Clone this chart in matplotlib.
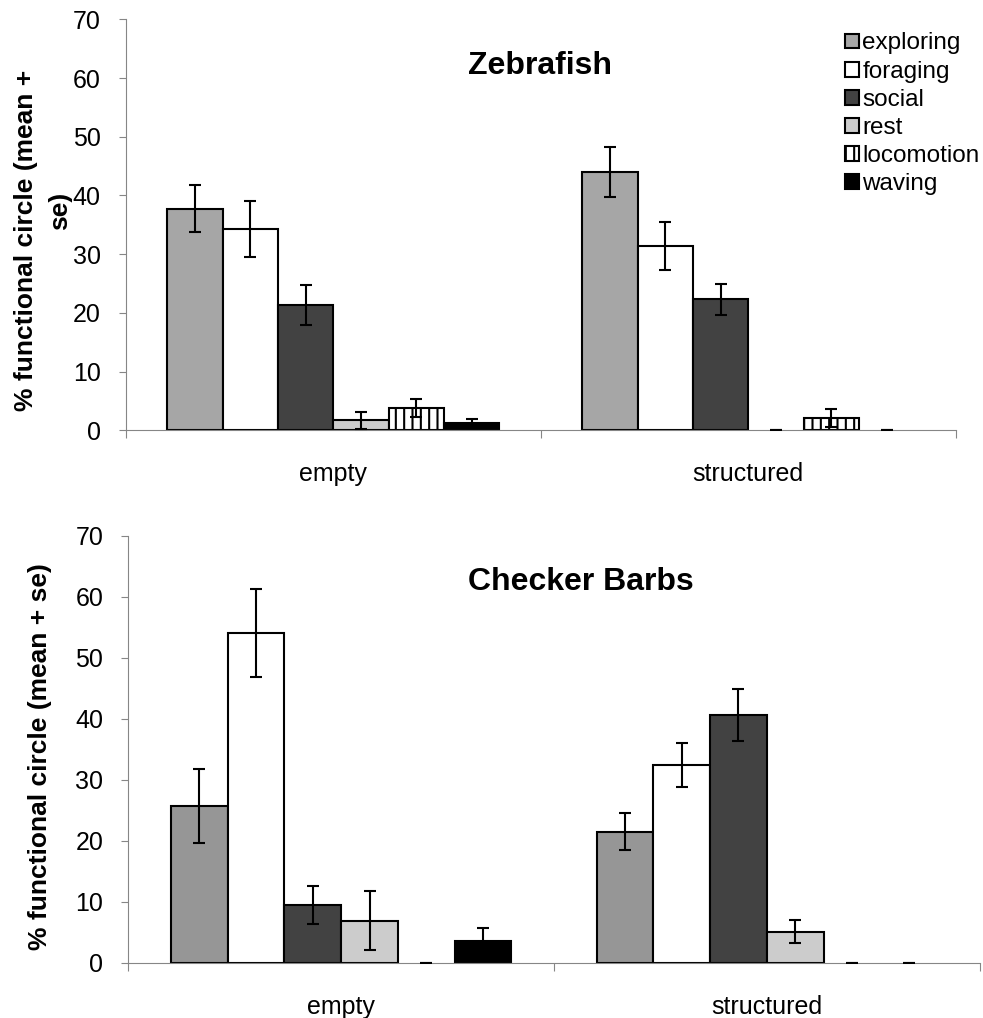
import numpy as np
import matplotlib
matplotlib.use("Agg")
import matplotlib.pyplot as plt
from matplotlib.patches import Patch

plt.rcParams['font.family'] = ['Liberation Sans', 'DejaVu Sans']
plt.rcParams['hatch.linewidth'] = 1.5

# Behaviour categories and habitat conditions
behaviours = ['exploring', 'foraging', 'social', 'rest', 'locomotion', 'waving']
habitats = ['empty', 'structured']

# Zebrafish: mean % of functional circle and standard error
zebra_mean_empty = [37.7, 34.3, 21.4, 1.7, 3.8, 1.2]
zebra_se_empty = [4.0, 4.7, 3.4, 1.5, 1.5, 0.8]
zebra_mean_struct = [44.0, 31.4, 22.3, 0.0, 2.1, 0.0]
zebra_se_struct = [4.3, 4.1, 2.7, 0.0, 1.6, 0.0]

# Checker barbs: mean % of functional circle and standard error
barbs_mean_empty = [25.7, 54.0, 9.5, 6.9, 0.0, 3.5]
barbs_se_empty = [6.0, 7.2, 3.1, 4.8, 0.0, 2.2]
barbs_mean_struct = [21.5, 32.4, 40.6, 5.1, 0.0, 0.0]
barbs_se_struct = [3.0, 3.6, 4.3, 1.9, 0.0, 0.0]

y_ticks = [0, 10, 20, 30, 40, 50, 60, 70]

zebra_colors = ['#a6a6a6', '#ffffff', '#424242', '#cccccc', '#ffffff', '#000000']
barbs_colors = ['#969696', '#ffffff', '#424242', '#cccccc', '#ffffff', '#000000']
hatches = ['', '', '', '', '||', '']

axis_grey = '#868686'
n_beh = len(behaviours)
group_w = 0.8
bar_w = group_w / n_beh


def draw_panel(ax, means_by_habitat, se_by_habitat, colors):
    for h, (means, ses) in enumerate(zip(means_by_habitat, se_by_habitat)):
        centre = h + 0.5
        xs = centre - group_w / 2 + (np.arange(n_beh) + 0.5) * bar_w
        for i in range(n_beh):
            lw = 1.5 if means[i] > 0 else 0
            ax.bar(xs[i], means[i], width=bar_w, color=colors[i],
                   edgecolor='black', linewidth=lw, hatch=hatches[i], zorder=2)
        ax.errorbar(xs, means, yerr=ses, fmt='none', ecolor='black',
                    elinewidth=1.5, capsize=4.3, capthick=1.5, zorder=3)
    ax.set_xlim(0, len(means_by_habitat))
    ax.set_ylim(0, 70)
    ax.set_yticks(y_ticks)
    ax.tick_params(axis='y', labelsize=18, direction='out', length=5,
                   width=0.8, color=axis_grey, pad=13)
    ax.set_xticks([0, 1, 2])
    ax.set_xticklabels([])
    ax.set_xticks([0.5, 1.5], minor=True)
    ax.set_xticklabels(habitats, minor=True)
    ax.tick_params(axis='x', which='major', direction='out', length=6,
                   width=0.8, color=axis_grey)
    ax.tick_params(axis='x', which='minor', length=0, labelsize=18, pad=23)
    for side in ('top', 'right'):
        ax.spines[side].set_visible(False)
    for side in ('left', 'bottom'):
        ax.spines[side].set_color(axis_grey)
        ax.spines[side].set_linewidth(0.8)


fig = plt.figure(figsize=(9.83, 10.18), dpi=100)
W, H = 983.0, 1018.0

ax_top = fig.add_axes([125.7 / W, 1 - 430.3 / H, 830.0 / W, 411.0 / H])
ax_bot = fig.add_axes([128.3 / W, 1 - 962.7 / H, 851.4 / W, 427.0 / H])

draw_panel(ax_top, [zebra_mean_empty, zebra_mean_struct],
           [zebra_se_empty, zebra_se_struct], zebra_colors)
draw_panel(ax_bot, [barbs_mean_empty, barbs_mean_struct],
           [barbs_se_empty, barbs_se_struct], barbs_colors)

# Panel titles
fig.text(468 / W, 1 - 74 / H, 'Zebrafish', ha='left', va='baseline',
         fontsize=23, fontweight='bold')
fig.text(468 / W, 1 - 590 / H, 'Checker Barbs', ha='left', va='baseline',
         fontsize=23, fontweight='bold')

# Axis titles
fig.text(26 / W, 1 - 240 / H, '% functional circle (mean +', rotation=90,
         ha='center', va='center', fontsize=19, fontweight='bold')
fig.text(60 / W, 1 - 211 / H, 'se)', rotation=90,
         ha='center', va='center', fontsize=19, fontweight='bold')
fig.text(40 / W, 1 - 757 / H, '% functional circle (mean + se)', rotation=90,
         ha='center', va='center', fontsize=19, fontweight='bold')

# Legend for behaviour categories
handles = [Patch(facecolor=zebra_colors[i], edgecolor='black', linewidth=1.5,
                 hatch=hatches[i], label=behaviours[i]) for i in range(n_beh)]
fig.legend(handles=handles, loc='upper left',
           bbox_to_anchor=(845.0 / W, 1 - 32.5 / H), frameon=False,
           fontsize=17.5, handlelength=0.56, handleheight=0.56,
           handletextpad=0.15, labelspacing=0.255, borderpad=0,
           borderaxespad=0)

fig.savefig('out.png', dpi=100)
